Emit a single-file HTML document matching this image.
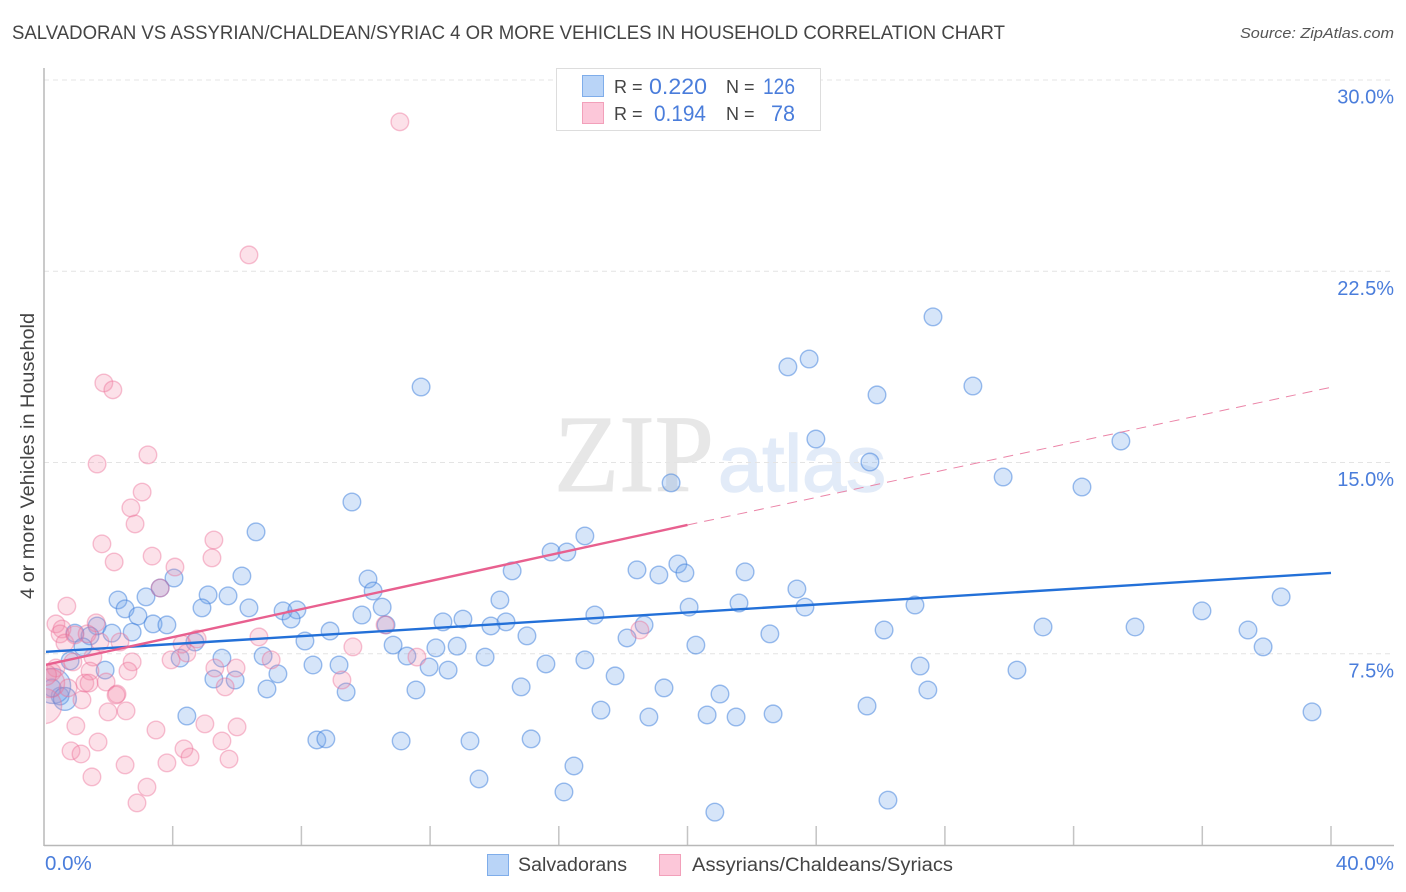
<!DOCTYPE html>
<html lang="en">
<head>
<meta charset="utf-8">
<title>Salvadoran vs Assyrian/Chaldean/Syriac correlation chart</title>
<style>
html,body{margin:0;padding:0;background:#fff;}
svg{display:block;font-family:"Liberation Sans",sans-serif;}
</style>
</head>
<body>
<svg id="chart" xmlns="http://www.w3.org/2000/svg" width="1406" height="892" viewBox="0 0 1406 892">
  <defs><clipPath id="plot-clip"><rect x="46" y="60" width="1350" height="785"/></clipPath></defs>
  <rect width="1406" height="892" fill="#fff"/>
  <text x="12" y="39" font-size="19" fill="#444" textLength="993" lengthAdjust="spacingAndGlyphs">SALVADORAN VS ASSYRIAN/CHALDEAN/SYRIAC 4 OR MORE VEHICLES IN HOUSEHOLD CORRELATION CHART</text>
  <text x="1394" y="38" font-size="15" font-style="italic" fill="#555" text-anchor="end" textLength="154" lengthAdjust="spacingAndGlyphs">Source: ZipAtlas.com</text>
  <g>
    <text x="554" y="491" font-family="'Liberation Serif',serif" font-size="110" fill="#e7e7e7" stroke="#e7e7e7" stroke-width="1" textLength="160" lengthAdjust="spacingAndGlyphs">ZIP</text>
    <text x="718" y="491" font-size="80" fill="#e2ebf8" stroke="#e2ebf8" stroke-width="1.5" textLength="168" lengthAdjust="spacingAndGlyphs">atlas</text>
  </g>
  <g id="grid"></g>
  <g id="axes"></g>
  <g id="blue-points" clip-path="url(#plot-clip)"></g>
  <g id="pink-points" clip-path="url(#plot-clip)"></g>
  <g id="trends" clip-path="url(#plot-clip)"></g>
  <text transform="translate(34,456) rotate(-90)" font-size="19" fill="#444" text-anchor="middle" textLength="286" lengthAdjust="spacingAndGlyphs">4 or more Vehicles in Household</text>
  <g id="tick-labels"></g>
  <g>
    <rect x="556.5" y="68.5" width="264" height="62" fill="#fff" stroke="#ddd"/>
    <rect x="582.5" y="75.5" width="21" height="21" fill="#b9d4f7" stroke="#7fadea"/>
    <rect x="582.5" y="102.5" width="21" height="21" fill="#fcc7d9" stroke="#f2a0ba"/>
    <text x="614" y="93" font-size="18" fill="#444">R =</text>
    <text x="649" y="94" font-size="22" fill="#4a7ddb" textLength="58" lengthAdjust="spacingAndGlyphs">0.220</text>
    <text x="726" y="93" font-size="18" fill="#444">N =</text>
    <text x="763" y="94" font-size="22" fill="#4a7ddb" textLength="32" lengthAdjust="spacingAndGlyphs">126</text>
    <text x="614" y="120" font-size="18" fill="#444">R =</text>
    <text x="654" y="121" font-size="22" fill="#4a7ddb" textLength="52" lengthAdjust="spacingAndGlyphs">0.194</text>
    <text x="726" y="120" font-size="18" fill="#444">N =</text>
    <text x="771" y="121" font-size="22" fill="#4a7ddb" textLength="24" lengthAdjust="spacingAndGlyphs">78</text>
  </g>
  <g>
    <rect x="487.5" y="854.5" width="21" height="21" fill="#b9d4f7" stroke="#7fadea"/>
    <text x="518" y="871" font-size="19" fill="#444" textLength="109" lengthAdjust="spacingAndGlyphs">Salvadorans</text>
    <rect x="659.5" y="854.5" width="21" height="21" fill="#fcc7d9" stroke="#f2a0ba"/>
    <text x="692" y="871" font-size="19" fill="#444" textLength="261" lengthAdjust="spacingAndGlyphs">Assyrians/Chaldeans/Syriacs</text>
  </g>
</svg>
<script>
var yTickValues = [7.5, 15, 22.5, 30];
var yTickLabels = ["7.5%", "15.0%", "22.5%", "30.0%"];
var xTickValues = [4, 8, 12, 16, 20, 24, 28, 32, 36, 40];
var xEndValues = [0, 40];
var xEndLabels = ["0.0%", "40.0%"];

var blueX = [27.63,23.78,23.12,28.87,25.89,11.72,23.99,33.47,25.67,29.81,19.49,32.26,9.57,6.59,16.81,15.76,16.25,14.55,18.43,19.11,19.70,19.92,21.79,6.15,4.04,10.07,3.61,2.30,3.17,5.10,5.72,10.23,14.17,23.40,38.45,2.52,4.91,6.37,7.43,7.86,7.68,10.51,9.88,2.92,3.39,3.82,1.65,12.40,13.02,13.89,14.36,17.12,20.05,21.60,23.65,27.07,35.99,31.05,33.91,26.11,37.42,8.89,10.63,2.74,2.11,0.96,1.43,15.01,18.12,18.65,22.56,1.21,4.69,8.11,10.85,12.18,12.84,20.26,37.89,6.81,5.53,4.23,11.28,13.71,16.81,15.60,8.36,9.17,11.97,12.56,27.23,30.24,1.90,7.27,17.75,0.81,5.28,5.94,6.93,11.56,14.83,19.27,21.01,27.47,9.39,0.50,0.25,4.44,17.31,18.80,20.61,21.51,22.66,25.58,39.41,8.48,8.76,11.10,13.24,15.14,16.47,13.52,16.16,20.85,26.23];
var blueY = [20.71,19.06,18.75,18.00,17.65,17.96,15.92,15.84,15.02,14.43,14.20,14.04,13.45,12.28,12.12,11.49,11.49,10.75,10.79,10.59,11.02,10.67,10.71,10.55,10.47,10.43,10.08,9.61,9.73,9.81,9.77,9.96,9.61,10.04,9.73,9.26,9.30,9.30,9.18,9.22,8.86,9.33,9.02,8.98,8.67,8.63,8.59,8.75,8.86,8.59,8.75,9.02,9.33,9.49,9.33,9.41,9.18,8.55,8.55,8.43,8.43,8.39,8.63,8.35,8.31,8.31,8.20,8.20,8.12,8.63,8.28,7.77,7.96,8.00,7.84,7.73,7.80,7.84,7.77,7.41,7.33,7.33,7.41,7.37,7.26,7.10,7.06,7.06,6.98,6.86,7.02,6.86,6.86,6.71,6.63,7.22,6.51,6.47,6.12,6.08,6.20,6.16,5.92,6.08,6.00,5.84,6.16,5.06,5.29,5.02,5.10,5.02,5.14,5.45,5.22,4.12,4.16,4.08,4.08,4.16,3.10,2.59,2.08,1.29,1.76];
var blueLargeX = [0.28, 0.65];
var blueLargeY = [6.24, 5.73];
var blueLargeWeight = [4, 1.7];

var pinkX = [11.06,6.37,1.86,2.14,1.65,3.23,3.05,2.70,2.83,1.80,2.18,3.36,4.07,5.28,5.22,3.61,0.71,0.37,0.56,0.50,0.65,1.62,0.96,1.34,1.74,2.36,1.52,0.90,2.74,2.61,1.43,1.93,1.27,1.40,2.27,2.24,0.75,1.18,1.99,2.55,0.99,1.68,0.84,1.15,1.49,2.52,3.20,2.89,3.48,3.82,4.35,4.54,5.00,5.53,5.75,6.00,6.68,7.06,5.97,5.31,5.63,4.76,4.29,4.44,3.95,9.26,9.60,10.60,11.59,18.52,0.25,0.37];
var pinkY = [28.36,23.14,18.12,17.85,14.94,15.30,13.84,13.22,12.59,11.81,11.10,11.33,10.90,11.96,11.26,10.08,9.37,8.67,8.47,8.28,7.92,8.71,8.24,8.28,7.96,7.96,7.37,7.18,7.18,6.82,6.82,6.39,6.35,6.35,5.92,5.88,6.16,5.69,5.22,5.26,4.67,4.04,3.69,3.57,2.67,3.14,2.27,1.65,4.51,3.22,3.77,3.45,4.75,4.08,3.37,4.63,8.16,7.26,6.94,6.94,6.20,8.08,7.88,7.53,7.26,6.47,7.77,8.63,7.37,8.43,6.78,6.94];
var pinkLargeX = [0.00, 0.19, 0.06];
var pinkLargeY = [5.45, 6.35, 6.67];
var pinkLargeWeight = [4, 2.7, 1.4];

var blueTrendX = [0, 40];
var blueTrendY = [7.57, 10.67];
var pinkTrendSolidX = [0, 20];
var pinkTrendSolidY = [7.05, 12.55];
var pinkTrendDashX = [20, 40];
var pinkTrendDashY = [12.55, 17.95];

var NS = "http://www.w3.org/2000/svg";
function sx(v) { return 44 + v * 32.175; }
function sy(v) { return 845 - v * 25.5; }
function sr(w) { return 8.8 * Math.sqrt(w); }
function make(tag, attrs, parent) {
  var el = document.createElementNS(NS, tag);
  for (var k in attrs) { el.setAttribute(k, attrs[k]); }
  parent.appendChild(el);
  return el;
}
var gridG = document.getElementById("grid");
var axesG = document.getElementById("axes");
var labelsG = document.getElementById("tick-labels");
var blueG = document.getElementById("blue-points");
var pinkG = document.getElementById("pink-points");
var trendG = document.getElementById("trends");

yTickValues.forEach(function (v, i) {
  var gl = make("line", {x1: 44, x2: 1394, y1: sy(v), y2: sy(v), stroke: "#e4e4e4", "stroke-width": 1, "stroke-dasharray": "5 4"}, gridG);
  
  
  var t = make("text", {x: 1394, y: sy(v) + 23.5, "font-size": 20, fill: "#4a7ddb", "text-anchor": "end"}, labelsG);
  t.textContent = yTickLabels[i];
  
  
});
xEndValues.forEach(function (v, i) {
  var t = make("text", {x: i === 0 ? sx(v) + 1 : 1394, y: 870, "font-size": 20.5, fill: "#4a7ddb", "text-anchor": i === 0 ? "start" : "end"}, labelsG);
  t.textContent = xEndLabels[i];
  
  
});
xTickValues.forEach(function (v) {
  var tk = make("line", {x1: sx(v), x2: sx(v), y1: 826, y2: 845, stroke: "#c4c4c4", "stroke-width": 1.5}, axesG);
  
  
});
var yAxis = make("line", {x1: 44, x2: 44, y1: 68, y2: 846, stroke: "#b8b8b8", "stroke-width": 1.5}, axesG);


var xAxis = make("line", {x1: 44, x2: 1394, y1: 845.5, y2: 845.5, stroke: "#b8b8b8", "stroke-width": 1.5}, axesG);



function bluePoint(x, y, w) {
  var c = make("circle", {cx: sx(x), cy: sy(y), r: sr(w), fill: "rgba(120,170,235,.3)", stroke: "rgba(60,125,220,.5)", "stroke-width": 1.4}, blueG);
  
  
}
function pinkPoint(x, y, w) {
  var c = make("circle", {cx: sx(x), cy: sy(y), r: sr(w), fill: "rgba(245,140,170,.26)", stroke: "rgba(235,110,150,.42)", "stroke-width": 1.4}, pinkG);
  
  
}
blueX.forEach(function (x, i) { bluePoint(x, blueY[i], 1); });
blueLargeX.forEach(function (x, i) { bluePoint(x, blueLargeY[i], blueLargeWeight[i]); });
pinkX.forEach(function (x, i) { pinkPoint(x, pinkY[i], 1); });
pinkLargeX.forEach(function (x, i) { pinkPoint(x, pinkLargeY[i], pinkLargeWeight[i]); });

var tb = make("line", {x1: sx(blueTrendX[0]), y1: sy(blueTrendY[0]), x2: sx(blueTrendX[1]), y2: sy(blueTrendY[1]), stroke: "#2370d8", "stroke-width": 2.4}, trendG);


var tp = make("line", {x1: sx(pinkTrendSolidX[0]), y1: sy(pinkTrendSolidY[0]), x2: sx(pinkTrendSolidX[1]), y2: sy(pinkTrendSolidY[1]), stroke: "#e8608f", "stroke-width": 2.4}, trendG);


var td = make("line", {x1: sx(pinkTrendDashX[0]), y1: sy(pinkTrendDashY[0]), x2: sx(pinkTrendDashX[1]), y2: sy(pinkTrendDashY[1]), stroke: "#eb85a8", "stroke-width": 1, "stroke-dasharray": "10 7"}, trendG);


</script>
</body>
</html>
